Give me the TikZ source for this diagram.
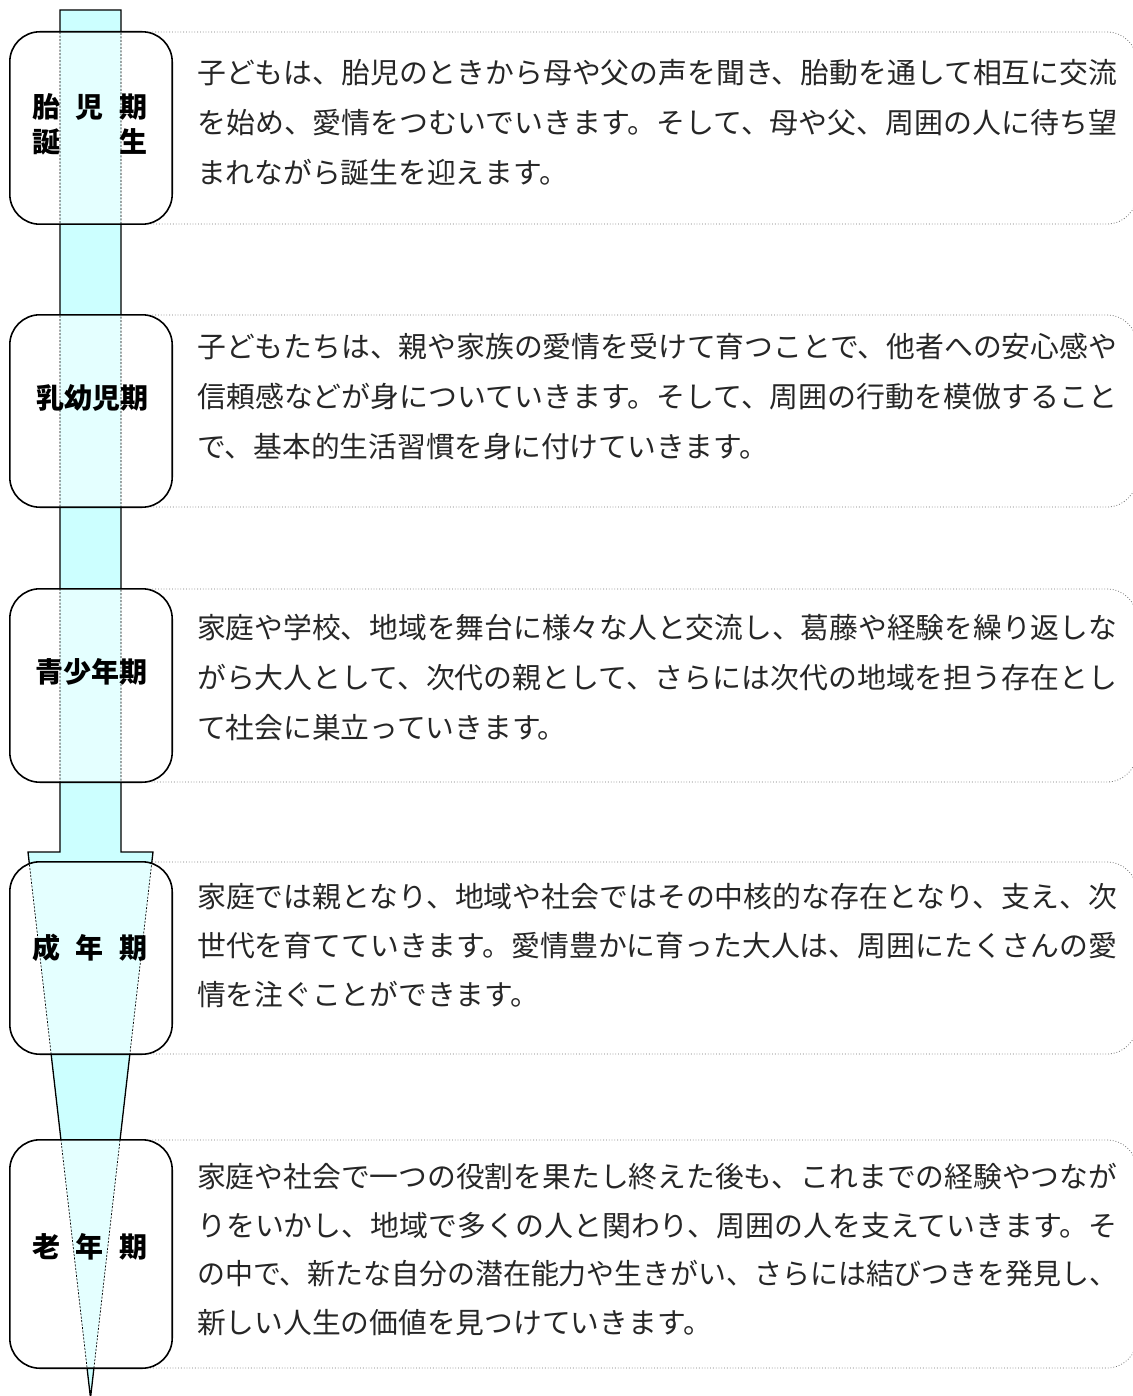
\documentclass[tikz,border=0pt]{standalone}
\usepackage{graphicx}
\usepackage{fontspec}
\newfontfamily\cjk{Noto Sans CJK JP}
\definecolor{shaftcol}{HTML}{CCFFFF}
\definecolor{shaftin}{HTML}{E4FFFF}
\definecolor{txtcol}{HTML}{262626}
\newcommand{\fullline}[1]{\resizebox{920pt}{\height}{#1}}
\def\shaftpath{(60,10) -- (121,10) -- (121,852) -- (153,852) -- (90.5,1398) -- (28,852) -- (60,852) -- cycle}
\tikzset{
  lifebox/.style={fill=white, rounded corners=30pt, inner sep=0pt, minimum width=162pt},
  boxline/.style={draw=black, line width=1.6pt, rounded corners=30pt},
  frameline/.style={draw=black!55, line width=0.8pt, dotted, rounded corners=30pt},
  bodytext/.style={anchor=base west, inner sep=0pt, text=txtcol, font=\cjk\fontsize{28.75pt}{28.75pt}\selectfont},
  lbl/.style={inner sep=0pt, anchor=center, font=\cjk\bfseries\fontsize{28pt}{28pt}\selectfont},
  shaftline/.style={draw=black, line width=1.3pt, fill=shaftcol, line join=miter},
  insideline/.style={draw=black, line width=0.7pt, dash pattern=on 2pt off 1.5pt, fill=shaftin},
}
\begin{document}
\begin{tikzpicture}[x=1pt,y=-1pt]
\useasboundingbox (0,0) rectangle (1132,1396);
% dotted text frames
\draw[frameline] (130,32) -| (1137,224) -- (130,224);
\draw[frameline] (130,315) -| (1137,507) -- (130,507);
\draw[frameline] (130,589) -| (1137,782) -- (130,782);
\draw[frameline] (130,862) -| (1137,1054) -- (130,1054);
\draw[frameline] (130,1140) -| (1137,1368) -- (130,1368);
% the life shaft
\path[shaftline] \shaftpath;
% boxes
\node[lifebox, minimum height=192pt] (b1) at (91,128) {};
\node[lifebox, minimum height=192pt] (b2) at (91,411) {};
\node[lifebox, minimum height=193pt] (b3) at (91,685.5) {};
\node[lifebox, minimum height=192pt] (b4) at (91,958) {};
\node[lifebox, minimum height=228pt] (b5) at (91,1254) {};
\foreach \b in {b1,b2,b3,b4,b5}{
  \begin{scope}
    \clip[rounded corners=30pt] (\b.south west) rectangle (\b.north east);
    \path[insideline] \shaftpath;
  \end{scope}
  \draw[boxline] (\b.south west) rectangle (\b.north east);
}
% labels
\node[lbl] (l1a) at (90,107) {胎\hspace{16pt}児\hspace{16pt}期};
\node[lbl] (l1b) at (90,142) {誕\hspace{60pt}生};
\node[lbl] (l2) at (92,398) {乳幼児期};
\node[lbl] (l3) at (91,672) {青少年期};
\node[lbl] (l4) at (90,948) {成\hspace{16pt}年\hspace{16pt}期};
\node[lbl] (l5) at (90,1247) {老\hspace{16pt}年\hspace{16pt}期};
% texts
\node[bodytext] (t1a) at (197,83.4) {\fullline{子どもは、胎児のときから母や父の声を聞き、胎動を通して相互に交流}};
\node[bodytext] (t1b) at (197,133.9) {\fullline{を始め、愛情をつむいでいきます。そして、母や父、周囲の人に待ち望}};
\node[bodytext] (t1c) at (197,183.9) {まれながら誕生を迎えます。};
\node[bodytext] (t2a) at (197,357.9) {\fullline{子どもたちは、親や家族の愛情を受けて育つことで、他者への安心感や}};
\node[bodytext] (t2b) at (197,407.9) {\fullline{信頼感などが身についていきます。そして、周囲の行動を模倣すること}};
\node[bodytext] (t2c) at (197,457.9) {で、基本的生活習慣を身に付けていきます。};
\node[bodytext] (t3a) at (197,638.9) {\fullline{家庭や学校、地域を舞台に様々な人と交流し、葛藤や経験を繰り返しな}};
\node[bodytext] (t3b) at (197,688.9) {\fullline{がら大人として、次代の親として、さらには次代の地域を担う存在とし}};
\node[bodytext] (t3c) at (197,738.9) {て社会に巣立っていきます。};
\node[bodytext] (t4a) at (197,907.9) {\fullline{家庭では親となり、地域や社会ではその中核的な存在となり、支え、次}};
\node[bodytext] (t4b) at (197,956.9) {\fullline{世代を育てていきます。愛情豊かに育った大人は、周囲にたくさんの愛}};
\node[bodytext] (t4c) at (197,1005.9) {情を注ぐことができます。};
\node[bodytext] (t5a) at (197,1187.9) {\fullline{家庭や社会で一つの役割を果たし終えた後も、これまでの経験やつなが}};
\node[bodytext] (t5b) at (197,1236.9) {\fullline{りをいかし、地域で多くの人と関わり、周囲の人を支えていきます。そ}};
\node[bodytext] (t5c) at (197,1284.9) {\fullline{の中で、新たな自分の潜在能力や生きがい、さらには結びつきを発見し、}};
\node[bodytext] (t5d) at (197,1333.9) {新しい人生の価値を見つけていきます。};
\end{tikzpicture}
\end{document}
